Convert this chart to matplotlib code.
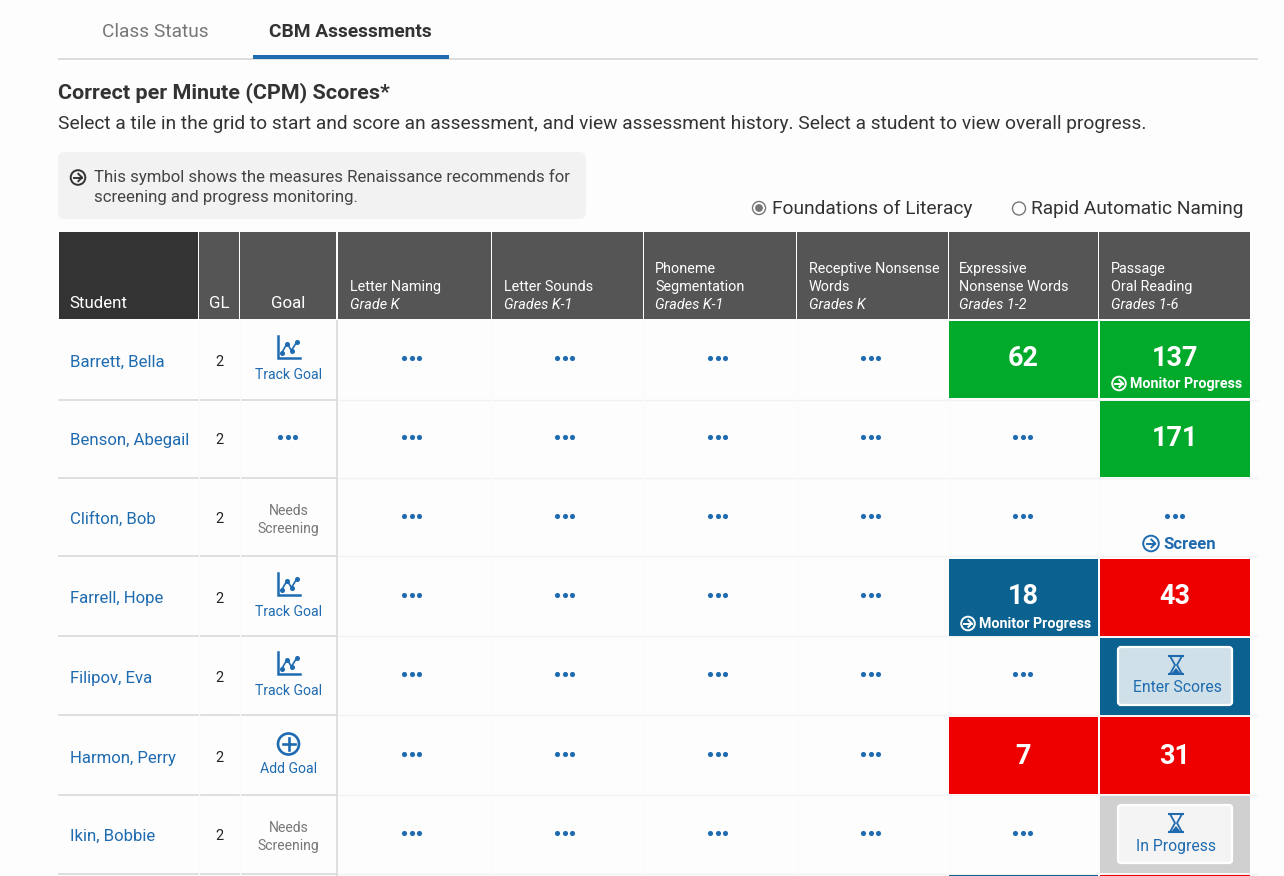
import matplotlib
matplotlib.use("Agg")
import matplotlib.pyplot as plt
from matplotlib.patches import Rectangle, FancyBboxPatch, Circle, Polygon

plt.rcParams['font.family'] = ['Roboto', 'DejaVu Sans']

# ---- data ----
tabs = ["Class Status", "CBM Assessments"]
title = "Correct per Minute (CPM) Scores*"
subtitle = ("Select a tile in the grid to start and score an assessment, and view "
            "assessment history. Select a student to view overall progress.")
note_lines = ["This symbol shows the measures Renaissance recommends for",
              "screening and progress monitoring."]
radio_labels = ["Foundations of Literacy", "Rapid Automatic Naming"]
students = ["Barrett, Bella", "Benson, Abegail", "Clifton, Bob", "Farrell, Hope",
            "Filipov, Eva", "Harmon, Perry", "Ikin, Bobbie"]
grade_levels = [2, 2, 2, 2, 2, 2, 2]
goals = ["track", "none", "screen", "track", "track", "add", "screen"]
measure_titles = [["Letter Naming"], ["Letter Sounds"], ["Phoneme", "Segmentation"],
                  ["Receptive Nonsense", "Words"], ["Expressive", "Nonsense Words"],
                  ["Passage", "Oral Reading"]]
measure_grades = ["Grade K", "Grades K-1", "Grades K-1", "Grades K", "Grades 1-2", "Grades 1-6"]
enw_scores = [62, None, None, 18, None, 7, None]
enw_colors = ["green", None, None, "blue", None, "red", None]
enw_notes = [None, None, None, "Monitor Progress", None, None, None]
por_scores = [137, 171, None, 43, None, 31, None]
por_colors = ["green", "green", None, "red", "blue", "red", "gray"]
por_notes = ["Monitor Progress", None, "Screen", None, "Enter Scores", None, "In Progress"]

# ---- styles / layout ----
BLUE = "#1f6bb0"
PAL = {"green": "#02aa2c", "red": "#ee0000", "blue": "#0b6290", "gray": "#d0d0d0"}
row_edges = [320, 400, 478, 556, 636, 715, 795, 874]
tile_tops = [321, 401, 479, 559, 638, 717, 796]
tile_bots = [398, 477, 556, 636, 715, 794, 873]
col_edges = [338, 492, 644, 797, 949, 1099, 1251]
col_text_x = [350, 504, 655, 809, 959, 1111]
dot_x = [411.5, 564.5, 717.5, 870.5, 1022.5, 1174.5]
dot_y = [358, 437, 516, 595, 674, 754, 833]
name_y = [362, 440, 519, 599, 678, 758, 836]
score_y = [359, 438, 517, 596, 675, 756, 835]

fig = plt.figure(figsize=(12.84, 8.76), dpi=100, facecolor="#fdfdfd")
ax = fig.add_axes([0, 0, 1, 1])
ax.set_xlim(0, 1284)
ax.set_ylim(876, 0)
ax.axis("off")


def txt(x, y, s, size=12, color="#333333", weight="normal", ha="left", va="center", style="normal"):
    ax.text(x, y, s, fontsize=size * 0.72, color=color, fontweight=weight, ha=ha, va=va, fontstyle=style)


def rect(x0, y0, x1, y1, color, z=1):
    ax.add_patch(Rectangle((x0, y0), x1 - x0, y1 - y0, facecolor=color, edgecolor="none", zorder=z))


def hline(x0, x1, y, color, lw=1.0):
    ax.plot([x0, x1], [y, y], color=color, lw=lw, solid_capstyle="butt", zorder=1.5)


def vline(x, y0, y1, color, lw=1.0):
    ax.plot([x, x], [y0, y1], color=color, lw=lw, solid_capstyle="butt", zorder=1.5)


def dots(cx, cy, color=BLUE):
    ax.plot([cx - 7.5, cx, cx + 7.5], [cy, cy, cy], ls="none", marker="o", ms=3.7, color=color,
            mec="none", zorder=3)


def arrow_icon(cx, cy, r, color, fill="none"):
    ax.add_patch(Circle((cx, cy), r, facecolor=fill, edgecolor=color, lw=1.4, zorder=4))
    ax.plot([cx - r * 0.55, cx + r * 0.55], [cy, cy], color=color, lw=1.4, zorder=4)
    ax.plot([cx + r * 0.05, cx + r * 0.55, cx + r * 0.05],
            [cy - r * 0.5, cy, cy + r * 0.5], color=color, lw=1.4, zorder=4)


def chart_icon(cx, cy):
    ax.plot([cx - 11, cx - 11, cx + 11], [cy - 12, cy + 10, cy + 10], color=BLUE, lw=1.8, zorder=4,
            solid_joinstyle="miter")
    ax.plot([cx - 6.5, cx - 1.5, cx + 3, cx + 8.5], [cy + 4.5, cy - 4.5, cy + 2.5, cy - 6.5], color=BLUE,
            lw=1.2, marker="o", ms=2.6, zorder=4)


def plus_icon(cx, cy):
    ax.add_patch(Circle((cx, cy), 10.5, facecolor="none", edgecolor=BLUE, lw=1.9, zorder=4))
    ax.plot([cx - 6, cx + 6], [cy, cy], color=BLUE, lw=1.9, zorder=4)
    ax.plot([cx, cx], [cy - 6, cy + 6], color=BLUE, lw=1.9, zorder=4)


def hourglass(cx, cy):
    ax.plot([cx - 7, cx + 7], [cy - 9, cy - 9], color=BLUE, lw=1.5, zorder=6)
    ax.plot([cx - 7, cx + 7], [cy + 9, cy + 9], color=BLUE, lw=1.5, zorder=6)
    ax.add_patch(Polygon([(cx - 6, cy - 9), (cx + 6, cy - 9), (cx + 1, cy), (cx + 6, cy + 9),
                          (cx - 6, cy + 9), (cx - 1, cy)], closed=True, facecolor="none",
                         edgecolor=BLUE, lw=1.3, zorder=6))
    ax.add_patch(Polygon([(cx, cy + 3), (cx + 5, cy + 9), (cx - 5, cy + 9)], closed=True,
                         facecolor=BLUE, edgecolor="none", zorder=6))


# ---- tabs and heading ----
txt(102, 32, tabs[0], 19.1, "#777777")
txt(269, 32, tabs[1], 19.2, "#333333", "bold")
hline(58, 1258, 59, "#dddddd", 1.4)
rect(253, 55, 449, 58.5, BLUE, 2)
txt(58, 92.5, title, 21.5, "#333333", "bold")
txt(58, 124, subtitle, 19.2, "#333333")

# ---- note box ----
ax.add_patch(FancyBboxPatch((58, 152), 528, 67, boxstyle="round,pad=0,rounding_size=7",
                            facecolor="#f2f2f2", edgecolor="none", zorder=1))
arrow_icon(78, 177.5, 7.3, "#333333")
txt(94, 177, note_lines[0], 16.7, "#444444")
txt(94, 197.5, note_lines[1], 16.7, "#444444")

# ---- radios ----
ax.add_patch(Circle((759, 208), 6.5, facecolor="white", edgecolor="#777777", lw=1, zorder=3))
ax.add_patch(Circle((759, 208), 3.9, facecolor="#777777", edgecolor="none", zorder=4))
txt(772, 209, radio_labels[0], 19.1, "#333333")
ax.add_patch(Circle((1019, 208.5), 6.5, facecolor="white", edgecolor="#777777", lw=1, zorder=3))
txt(1031, 209, radio_labels[1], 19.1, "#333333")

# ---- header ----
rect(59, 232, 198, 319, "#333333", 1)
rect(199, 232, 239, 319, "#555555", 1)
rect(240, 232, 336, 319, "#555555", 1)
txt(69.5, 303, "Student", 16.9, "white")
txt(219, 303, "GL", 16.9, "white", ha="center")
txt(288, 303, "Goal", 16.9, "white", ha="center")
for i, (t, g) in enumerate(zip(measure_titles, measure_grades)):
    rect(col_edges[i], 232, col_edges[i + 1] - 1, 319, "#555555", 1)
    y = 305
    txt(col_text_x[i], y, g, 14.4, "white", style="italic")
    for j, line in enumerate(reversed(t)):
        y -= 18
        txt(col_text_x[i], y, line, 14.4, "white")

# ---- grid lines ----
for y in row_edges[1:]:
    hline(58, 337, y, "#d9d9d9", 1.2)
    hline(338, 1258, y, "#f2f2f2", 1.0)
vline(336.8, 320, 876, "#d9d9d9", 1.2)
for x in [198.5, 239.5] + col_edges[1:6]:
    vline(x, 320, 876, "#fbfbfb", 1.0)

# ---- rows ----
for r, name in enumerate(students):
    cy = dot_y[r]
    top, bot = tile_tops[r], tile_bots[r]
    txt(70, name_y[r], name, 16.7, BLUE)
    txt(219, name_y[r], str(grade_levels[r]), 14.5, "#222222", ha="center")
    g = goals[r]
    if g == "track":
        chart_icon(288.5, cy - 10)
        txt(288.5, cy + 17, "Track Goal", 14, BLUE, ha="center")
    elif g == "add":
        plus_icon(288.5, cy - 10)
        txt(288.5, cy + 15, "Add Goal", 14, BLUE, ha="center")
    elif g == "none":
        dots(287.5, cy)
    else:
        txt(288.5, cy - 5, "Needs", 14, "#777777", ha="center")
        txt(288.5, cy + 13, "Screening", 14, "#777777", ha="center")

    for c in range(4):
        dots(dot_x[c], cy)

    # Expressive Nonsense Words
    x0, x1 = 949, 1098
    if enw_colors[r]:
        rect(x0, top, x1, bot, PAL[enw_colors[r]], 2)
        txt((x0 + x1) / 2, score_y[r], str(enw_scores[r]), 27, "white", "bold", ha="center")
        if enw_notes[r]:
            arrow_icon(968, cy + 28.5, 6.8, "white")
            txt(979, cy + 29, enw_notes[r], 14.3, "white", "bold")
    else:
        dots(dot_x[4], cy)

    # Passage Oral Reading
    x0, x1 = 1100, 1250
    if por_scores[r] is not None:
        rect(x0, top, x1, bot, PAL[por_colors[r]], 2)
        txt(1175, score_y[r], str(por_scores[r]), 27, "white", "bold", ha="center")
        if por_notes[r]:
            arrow_icon(1119, cy + 25.5, 6.8, "white")
            txt(1130, cy + 26, por_notes[r], 14.3, "white", "bold")
    elif por_notes[r] == "Screen":
        dots(dot_x[5], cy)
        arrow_icon(1151, cy + 27.5, 7.8, BLUE)
        txt(1163.5, cy + 28.5, "Screen", 16.8, BLUE, "bold")
    else:
        rect(x0, top, x1, bot, PAL[por_colors[r]], 2)
        face = "#cfe0e8" if por_colors[r] == "blue" else "#f4f4f4"
        ax.add_patch(FancyBboxPatch((1118, top + 9), 114, 58, boxstyle="round,pad=0,rounding_size=3",
                                    facecolor=face, edgecolor="white", lw=1.6, zorder=3))
        hourglass(1176, top + 27)
        txt(1177 if por_colors[r] == "blue" else 1176, top + 50, por_notes[r], 15.7, BLUE, ha="center")

# next row peeking in at the bottom edge
rect(949, 875, 1098, 876, PAL["blue"], 2)
rect(1100, 875, 1250, 876, PAL["red"], 2)

fig.savefig("out.png", dpi=100, facecolor=fig.get_facecolor())
